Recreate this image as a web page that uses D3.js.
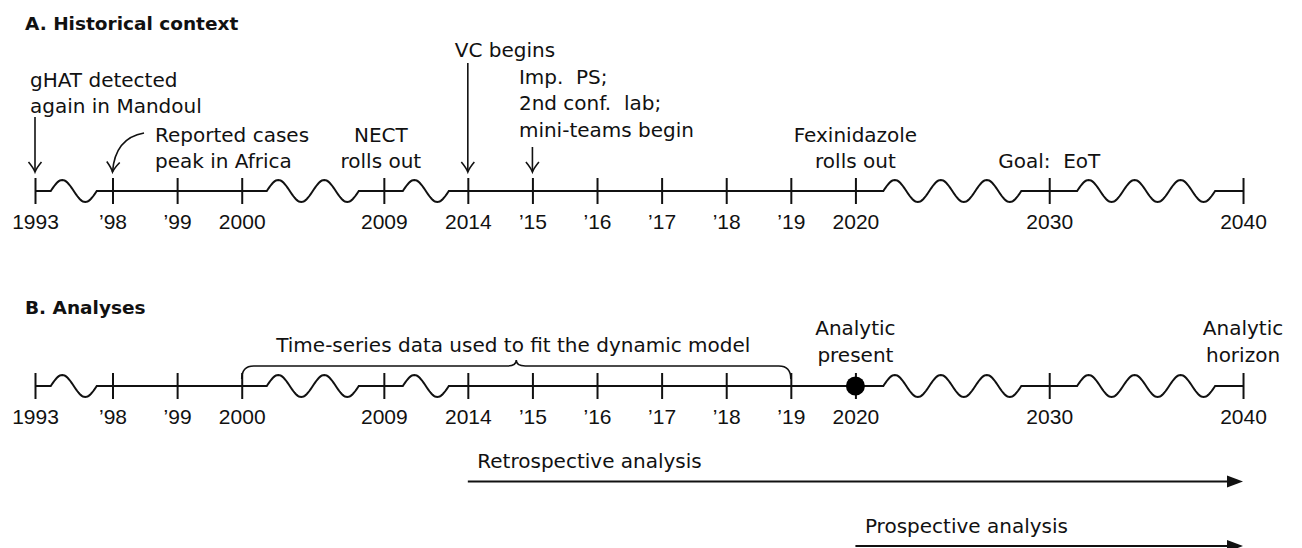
<!DOCTYPE html>
<html lang="en">
<head>
<meta charset="UTF-8">
<title>Timeline</title>
<style>
  body { margin: 0; background: white; }
  svg text { font-family: 'DejaVu Sans', sans-serif; font-size: 20px; fill: #111; white-space: pre; }
  svg .tick text { font-family: 'Liberation Sans', Arial, sans-serif; font-size: 21px; }
  svg .title { font-weight: bold; font-size: 18.5px; }
</style>
</head>
<body>
<svg id="svg" width="1302" height="548"></svg>
<script src="https://d3js.org/d3.v7.min.js"></script>
<script>
// ---- data ----
const years = [1993, 1998, 1999, 2000, 2009, 2014, 2015, 2016, 2017, 2018, 2019, 2020, 2030, 2040]
const tickLabels = ['1993', '’98', '’99', '2000', '2009', '2014', '’15', '’16', '’17', '’18', '’19', '2020', '2030', '2040']
// [from, to, number of waves] : compressed parts of the time axis
const breaks = [[1993, 1998, 1], [2000, 2009, 2], [2009, 2014, 1], [2020, 2030, 3], [2030, 2040, 3]]
const eventYears = [1993, 1998, 2009, 2014, 2015, 2020, 2030]
const eventTexts = [
  ['gHAT detected', 'again in Mandoul'],
  ['Reported cases', 'peak in Africa'],
  ['NECT', 'rolls out'],
  ['VC begins'],
  ['Imp.  PS;', '2nd conf.  lab;', 'mini-teams begin'],
  ['Fexinidazole', 'rolls out'],
  ['Goal:  EoT']
]
const fitYears = [2000, 2019]
const fitLabel = 'Time-series data used to fit the dynamic model'
const markerYears = [2020, 2040]
const markerTexts = [['Analytic', 'present'], ['Analytic', 'horizon']]
const analysisNames = ['Retrospective analysis', 'Prospective analysis']
const analysisStart = [2014, 2020]
const analysisEnd = [2040, 2040]

// ---- layout ----
const svg = d3.select('#svg')
const gaps = [1.2, 1, 1, 2.2, 1.3, 1, 1, 1, 1, 1, 1, 3, 3]
const unit = 64.6
const range = [35]
gaps.forEach(g => range.push(range[range.length - 1] + g * unit))
const x = d3.scaleLinear().domain(years).range(range)
const lineH = 26.6
const axisA = 191
const axisB = 386

// event label placement: dx from tick, first baseline, arrow
const eventLayout = {
  1993: { anchor: 'start', dx: -5, y: 86.5, arrow: [117, 172] },
  1998: { anchor: 'start', dx: 42.5, y: 141.5, curve: true },
  2009: { anchor: 'middle', dx: -3, y: 141.5 },
  2014: { anchor: 'start', dx: -13, y: 57, arrow: [63, 172] },
  2015: { anchor: 'start', dx: -13.5, y: 83.5, arrow: [147, 172] },
  2020: { anchor: 'middle', dx: 0, y: 141.5 },
  2030: { anchor: 'middle', dx: 0, y: 168 }
}

function drawAxis(y0) {
  const g = svg.append('g').attr('transform', `translate(0, ${y0})`)
  g.call(d3.axisBottom(x).tickValues(years).tickFormat((d, i) => tickLabels[i]).tickSize(13).tickSizeOuter(0))
  g.select('.domain').remove()
  g.selectAll('.tick line').attr('y1', -13).attr('stroke', '#111').attr('stroke-width', 2)
  g.selectAll('.tick text').attr('y', 38).attr('dy', null)

  // base line with wavy breaks
  const amp = 11, period = 46
  const pts = []
  for (let i = 0; i < years.length - 1; i++) {
    const a = x(years[i]), b = x(years[i + 1])
    pts.push([a, 0])
    const br = breaks.find(d => d[0] === years[i])
    if (br) {
      const w = br[2] * period
      const s = (a + b) / 2 - w / 2
      const n = br[2] * 40
      for (let t = 0; t <= n; t++) {
        const xx = s + w * t / n
        pts.push([xx, -amp * Math.sin(2 * Math.PI * (xx - s) / period)])
      }
    }
  }
  pts.push([x(years[years.length - 1]), 0])
  g.append('path')
    .attr('d', d3.line()(pts))
    .attr('fill', 'none')
    .attr('stroke', '#111')
    .attr('stroke-width', 2)
  return g
}

function toHead(tx, ty, ang) {
  const r = ang * 180 / Math.PI
  svg.append('path')
    .attr('d', 'M-10,-6.5 Q-4,-1.5 0,0 Q-4,1.5 -10,6.5')
    .attr('transform', `translate(${tx}, ${ty}) rotate(${r})`)
    .attr('fill', 'none')
    .attr('stroke', '#111')
    .attr('stroke-width', 1.6)
}

// ---- A. Historical context ----
svg.append('text').attr('class', 'title').attr('x', 25).attr('y', 30).text('A. Historical context')
drawAxis(axisA)

eventYears.forEach((yr, i) => {
  const L = eventLayout[yr]
  const tx = x(yr) + L.dx
  const t = svg.append('text').attr('text-anchor', L.anchor)
  eventTexts[i].forEach((s, j) => {
    t.append('tspan').attr('x', tx).attr('y', L.y + j * lineH).text(s)
  })
  if (L.arrow) {
    svg.append('line')
      .attr('x1', x(yr)).attr('x2', x(yr))
      .attr('y1', L.arrow[0]).attr('y2', L.arrow[1] - 0.5)
      .attr('stroke', '#111').attr('stroke-width', 1.6)
    toHead(x(yr), L.arrow[1], Math.PI / 2)
  }
  if (L.curve) {
    const p0 = [x(yr) + 31.5, 133], c = [x(yr) + 2.5, 138], p1 = [x(yr), 172]
    svg.append('path')
      .attr('d', `M${p0}Q${c} ${p1}`)
      .attr('fill', 'none').attr('stroke', '#111').attr('stroke-width', 1.6)
    toHead(p1[0], p1[1], Math.atan2(p1[1] - c[1], p1[0] - c[0]))
  }
})

// ---- B. Analyses ----
svg.append('text').attr('class', 'title').attr('x', 25).attr('y', 314).text('B. Analyses')
drawAxis(axisB)

// brace over the fitting window
const bx1 = x(fitYears[0]), bx2 = x(fitYears[1]), bm = (bx1 + bx2) / 2
const yb = axisB - 7, yh = axisB - 20, yt = axisB - 26
svg.append('path')
  .attr('d', `M${bx1},${yb} Q${bx1},${yh} ${bx1 + 12},${yh} L${bm - 9},${yh} Q${bm},${yh} ${bm},${yt} Q${bm},${yh} ${bm + 9},${yh} L${bx2 - 12},${yh} Q${bx2},${yh} ${bx2},${yb}`)
  .attr('fill', 'none').attr('stroke', '#111').attr('stroke-width', 1.6)
svg.append('text').attr('x', bm - 3).attr('y', axisB - 34.5).attr('text-anchor', 'middle').text(fitLabel)

// analytic present / horizon
markerYears.forEach((yr, i) => {
  const t = svg.append('text').attr('text-anchor', 'middle')
  markerTexts[i].forEach((s, j) => {
    t.append('tspan').attr('x', x(yr)).attr('y', axisB - 51 + j * lineH).text(s)
  })
})
svg.append('circle').attr('cx', x(markerYears[0])).attr('cy', axisB).attr('r', 9.5).attr('fill', '#000')

// analysis arrows
const arrowY = [481.5, 546]
analysisNames.forEach((name, i) => {
  const x1 = x(analysisStart[i]), x2 = x(analysisEnd[i])
  const y = arrowY[i]
  svg.append('line').attr('x1', x1).attr('x2', x2 - 12).attr('y1', y).attr('y2', y)
    .attr('stroke', '#111').attr('stroke-width', 2)
  svg.append('path').attr('d', `M${x2},${y} L${x2 - 16},${y - 6} L${x2 - 16},${y + 6} Z`).attr('fill', '#111')
  svg.append('text').attr('x', x1 + 9.5).attr('y', y - 13.5).text(name)
})
</script>
</body>
</html>
